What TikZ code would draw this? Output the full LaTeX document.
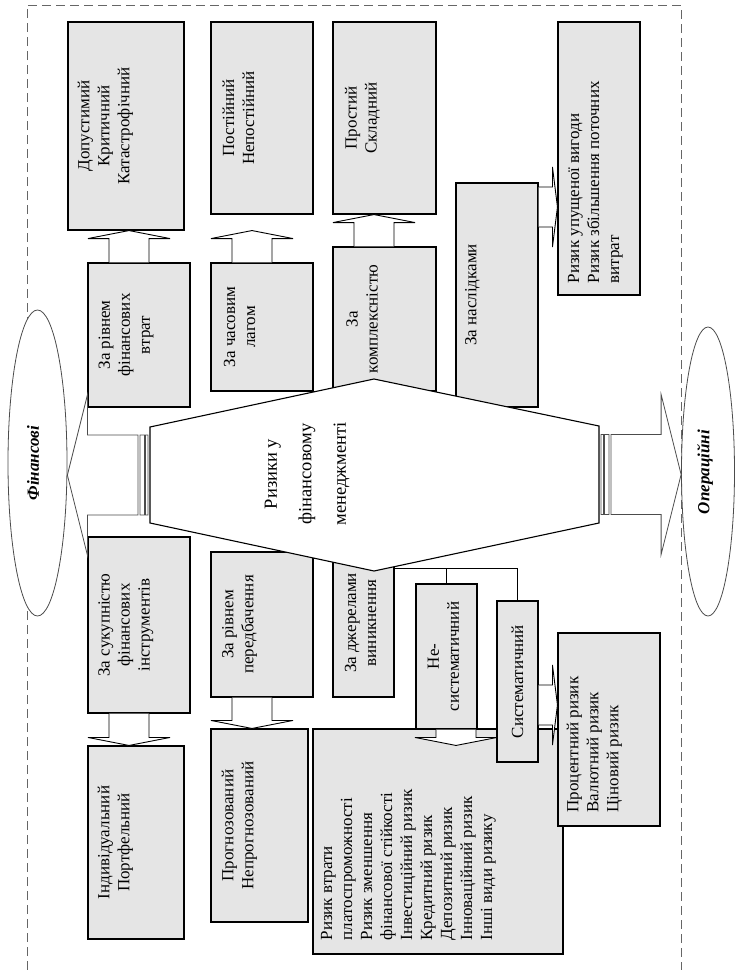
\documentclass[tikz,border=0pt]{standalone}
\usepackage{fontspec}
\setmainfont{Liberation Serif}
\usepackage{tikz}
\usetikzlibrary{calc, positioning, shapes.geometric}
\colorlet{Box}{black!10}
\colorlet{Shade}{black!70}
\colorlet{Frame}{black!60}

% hollow block arrows between two boxes (x or y of the shaft centre first)
\newcommand{\blockup}[3]{%
  \draw [blockarrow] let \p1=(#2), \p2=(#3), \p3=(#1,0) in
    (\x3-20pt,\y1) -- (\x3-20pt,\y2-8pt) -- (\x3-41pt,\y2-8pt) -- (\x3,\y2)
    -- (\x3+41pt,\y2-8pt) -- (\x3+20pt,\y2-8pt) -- (\x3+20pt,\y1);}
\newcommand{\blockdown}[3]{%
  \draw [blockarrow] let \p1=(#2), \p2=(#3), \p3=(#1,0) in
    (\x3-20pt,\y1) -- (\x3-20pt,\y2+8pt) -- (\x3-41pt,\y2+8pt) -- (\x3,\y2)
    -- (\x3+41pt,\y2+8pt) -- (\x3+20pt,\y2+8pt) -- (\x3+20pt,\y1);}
\newcommand{\blockright}[3]{%
  \draw [blockarrow] let \p1=(#2), \p2=(#3), \p3=(0,#1) in
    (\x1,\y3+20pt) -- (\x2-5pt,\y3+20pt) -- (\x2-5pt,\y3+40pt) -- (\x2,\y3)
    -- (\x2-5pt,\y3-40pt) -- (\x2-5pt,\y3-20pt) -- (\x1,\y3-20pt);}
% striped arrow, #3 = 1 to the right, -1 to the left
\newcommand{\stripedarrow}[3]{%
  \draw [striped] let \p1=(#1), \p2=(#2) in
    ({\x1+#3*2pt},{\y1+40pt}) rectangle ({\x1+#3*4.5pt},{\y1-40pt})
    ({\x1+#3*5.5pt},{\y1+40pt}) rectangle ({\x1+#3*10pt},{\y1-40pt})
    ({\x1+#3*12pt},{\y1+40pt}) -- ({\x2-#3*20pt},{\y1+40pt}) -- ({\x2-#3*20pt},{\y1+80pt})
    -- (\x2,\y1) -- ({\x2-#3*20pt},{\y1-80pt}) -- ({\x2-#3*20pt},{\y1-40pt})
    -- ({\x1+#3*12pt},{\y1-40pt}) -- cycle;}

\begin{document}
\begin{tikzpicture}[
  x=1pt, y=-1pt,
  box/.style={rectangle, draw=black, fill=Box, line width=1.1pt, inner sep=0pt},
  txt/.style={rotate=90, align=center, inner sep=0pt, font=\fontsize{17}{20}\selectfont},
  blockarrow/.style={draw=black, fill=white, line width=0.9pt},
  striped/.style={draw=Shade, fill=white, line width=0.8pt},
  oval/.style={ellipse, draw=Shade, fill=white, line width=0.8pt, inner sep=0pt},
  frame/.style={draw=Frame, dash pattern=on 9pt off 5pt, line width=0.9pt},
  hexa/.style={draw=black, fill=white, line width=1.1pt},
  fork/.style={draw=black, line width=1pt}
]
\useasboundingbox (0,0) rectangle (735,970);
\draw [frame] (27,970) |- (681,5) -- (681,970);

% upper half
\node [box, minimum width=116pt, minimum height=208pt] (dop) at (126,126) {};
\node [txt] (doptxt) at ([xshift=38pt]dop.west) {Допустимий\\Критичний\\Катастрофічний};
\node [box, minimum width=102pt, minimum height=192pt] (post) at (262,118) {};
\node [txt] (posttxt) at ([xshift=28pt]post.west) {Постійний\\Непостійний};
\node [box, minimum width=103pt, minimum height=192pt] (prost) at (384.5,118) {};
\node [txt] (prosttxt) at ([xshift=30pt]prost.west) {Простий\\Складний};
\node [box, minimum width=82pt, minimum height=273pt] (upush) at (599,158.5) {};
\node [txt, align=left, anchor=west] (upushtxt) at ([xshift=38pt,yshift=12pt]upush.south west)
  {Ризик упущеної вигоди\\Ризик збільшення поточних\\витрат};

\node [box, minimum width=102pt, minimum height=144pt] (rivvtr) at (139,335) {};
\node [txt] (rivvtrtxt) at ([xshift=38.5pt]rivvtr.west) {За рівнем\\фінансових\\втрат};
\node [box, minimum width=102pt, minimum height=128pt] (chas) at (262,327) {};
\node [txt] (chastxt) at ([xshift=29pt]chas.west) {За часовим\\лагом};
\node [box, minimum width=103pt, minimum height=144pt] (kompl) at (384.5,319) {};
\node [txt] (kompltxt) at ([xshift=29.5pt]kompl.west) {За\\комплексністю};
\node [box, minimum width=82pt, minimum height=224pt] (naslid) at (497,295) {};
\node [txt] (naslidtxt) at ([xshift=17pt]naslid.west) {За наслідками};

% lower half
\node [box, minimum width=102pt, minimum height=176pt] (sukup) at (139,625) {};
\node [txt] (sukuptxt) at ([xshift=38.5pt]sukup.west) {За сукупністю\\фінансових\\інструментів};
\node [box, minimum width=102pt, minimum height=145pt] (rivpered) at (262,624.5) {};
\node [txt] (rivperedtxt) at ([xshift=29pt]rivpered.west) {За рівнем\\передбачення};
\node [box, minimum width=61pt, minimum height=144pt] (dzher) at (363.5,625) {};
\node [txt] (dzhertxt) at ([xshift=28pt,yshift=2pt]dzher.west) {За джерелами\\виникнення};

\node [box, minimum width=96pt, minimum height=193pt] (indiv) at (136,842.5) {};
\node [txt] (indivtxt) at ([xshift=28pt]indiv.west) {Індивідуальний\\Портфельний};
\node [box, minimum width=97pt, minimum height=193pt] (prognoz) at (259.5,825.5) {};
\node [txt] (prognoztxt) at ([xshift=29pt]prognoz.west) {Прогнозований\\Непрогнозований};
\node [box, minimum width=250pt, minimum height=225pt] (vydy) at (438,841.5) {};
\node [txt, align=left, anchor=west] (vydytxt) at ([xshift=96pt,yshift=14pt]vydy.south west)
  {Ризик втрати\\платоспроможності\\Ризик зменшення\\фінансової стійкості\\Інвестиційний ризик\\Кредитний ризик\\Депозитний ризик\\Інноваційний ризик\\Інші види ризику};
\node [box, minimum width=61pt, minimum height=145pt] (nesys) at (446.5,656.5) {};
\node [txt] (nesystxt) at ([xshift=28pt]nesys.west) {Не-\\систематичний};
\node [box, minimum width=41pt, minimum height=161pt] (sys) at (517.5,681.5) {};
\node [txt] (systxt) at (sys) {Систематичний};
\node [box, minimum width=102pt, minimum height=193pt] (proc) at (609,729.5) {};
\node [txt, align=left, anchor=west] (proctxt) at ([xshift=37pt,yshift=14pt]proc.south west)
  {Процентний ризик\\Валютний ризик\\Ціновий ризик};

\blockup{129}{rivvtr.north}{dop.south}
\blockup{252}{chas.north}{[yshift=-16pt]post.south}
\blockup{374}{kompl.north}{prost.south}
\blockright{207}{naslid.east}{upush.west}
\blockdown{129}{sukup.south}{indiv.north}
\blockdown{252}{rivpered.south}{prognoz.north}
\blockdown{456}{nesys.south}{[yshift=-17pt]vydy.north}
\blockright{705}{sys.east}{proc.west}

\draw [hexa] (150,427) coordinate (hexnw) -- (374,379) -- (599,426) coordinate (hexne)
  -- (599,523) coordinate (hexse) -- (374,571) -- (150,523) coordinate (hexsw) -- cycle;
\node [txt, font=\fontsize{18.5}{34.5}\selectfont] (hex) at (307,474) {Ризики у\\фінансовому\\менеджменті};
\coordinate (hexw) at ($(hexnw)!0.5!(hexsw)$);
\coordinate (hexe) at ($(hexne)!0.5!(hexse)$);

\draw [fork] ($(dzher.north east)+(0,16)$) coordinate (split) -| (sys.north);
\draw [fork] (nesys.north) -- (nesys.north |- split);

\node [oval, minimum width=59pt, minimum height=306pt] (fin) at (37.5,463) {};
\node [txt, font=\bfseries\itshape\fontsize{17}{20}\selectfont] (fintxt) at (33,463) {Фінансові};
\node [oval, minimum width=53pt, minimum height=289pt] (oper) at (708,471.5) {};
\node [txt, font=\bfseries\itshape\fontsize{17}{20}\selectfont] (opertxt) at (705,472) {Операційні};

\stripedarrow{hexw}{fin.east}{-1}
\stripedarrow{hexe}{oper.west}{1}
\end{tikzpicture}
\end{document}
